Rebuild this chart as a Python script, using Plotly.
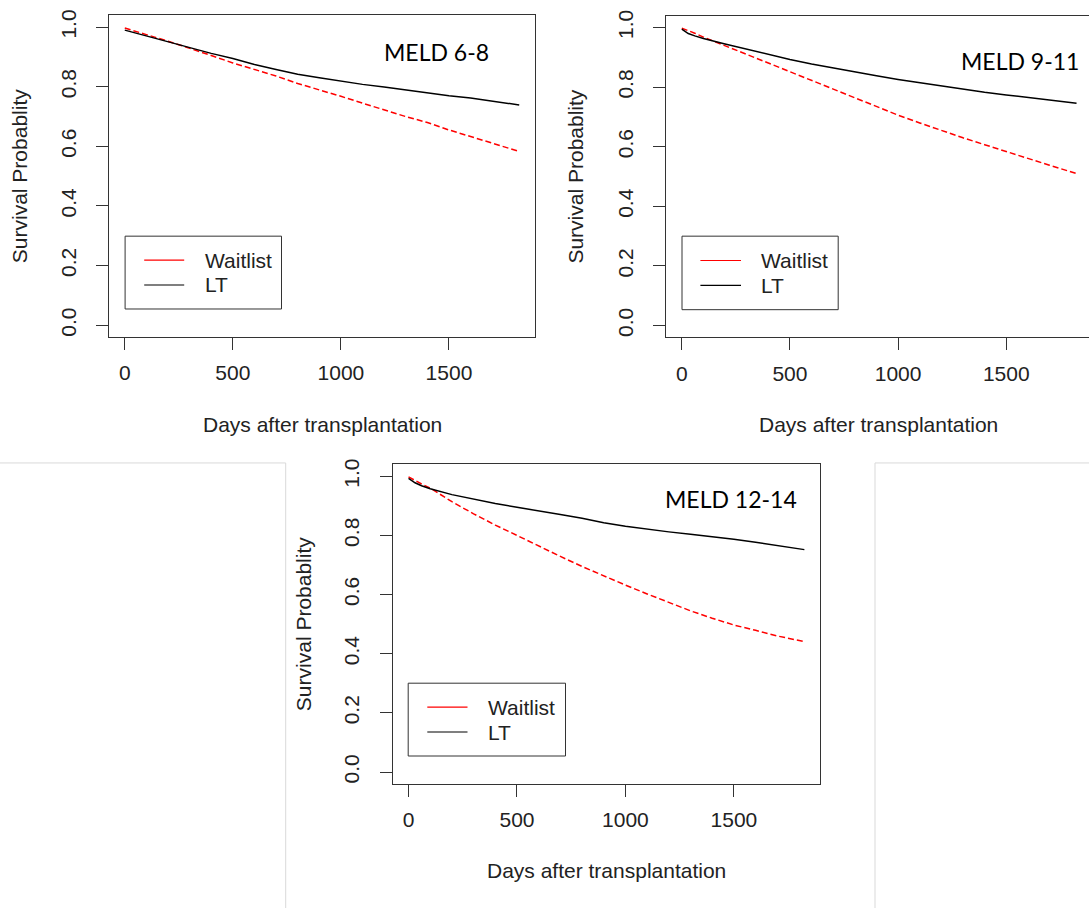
import plotly.graph_objects as go

# ---------------- data ----------------
DAYS = [0, 30, 60, 100, 200, 300, 400, 500, 600, 700, 800, 900, 1000,
        1100, 1200, 1300, 1400, 1500, 1600, 1700, 1825]

MELD_GROUPS = ["MELD 6-8", "MELD 9-11", "MELD 12-14"]
SERIES_NAMES = ["Waitlist", "LT"]

WAITLIST_6_8 = [0.997, 0.990, 0.984, 0.975, 0.953, 0.930, 0.905, 0.880, 0.858, 0.836,
                0.811, 0.790, 0.768, 0.745, 0.722, 0.700, 0.680, 0.655, 0.633, 0.610, 0.583]
LT_6_8 = [0.990, 0.984, 0.978, 0.972, 0.952, 0.930, 0.912, 0.895, 0.875, 0.858,
          0.842, 0.830, 0.818, 0.808, 0.799, 0.789, 0.779, 0.770, 0.762, 0.752, 0.739]

WAITLIST_9_11 = [0.998, 0.990, 0.981, 0.968, 0.940, 0.910, 0.881, 0.852, 0.822, 0.793,
                 0.764, 0.735, 0.706, 0.680, 0.654, 0.630, 0.607, 0.585, 0.561, 0.538, 0.510]
LT_9_11 = [0.995, 0.980, 0.972, 0.963, 0.945, 0.927, 0.909, 0.893, 0.878, 0.864,
           0.851, 0.838, 0.826, 0.815, 0.804, 0.793, 0.783, 0.774, 0.766, 0.757, 0.746]

WAITLIST_12_14 = [0.998, 0.985, 0.974, 0.960, 0.914, 0.873, 0.835, 0.800, 0.764, 0.729,
                  0.695, 0.663, 0.632, 0.602, 0.573, 0.545, 0.520, 0.497, 0.479, 0.460, 0.441]
LT_12_14 = [0.993, 0.978, 0.968, 0.958, 0.938, 0.922, 0.908, 0.895, 0.884, 0.871,
            0.858, 0.843, 0.831, 0.821, 0.812, 0.804, 0.796, 0.787, 0.777, 0.766, 0.752]

X_TICKS = [0, 500, 1000, 1500]
Y_TICKS = [0.0, 0.2, 0.4, 0.6, 0.8, 1.0]
Y_TICK_LABELS = ["0.0", "0.2", "0.4", "0.6", "0.8", "1.0"]
X_TITLE = "Days after transplantation"
Y_TITLE = "Survival Probablity"

GROUP_DATA = [
    (WAITLIST_6_8, LT_6_8),
    (WAITLIST_9_11, LT_9_11),
    (WAITLIST_12_14, LT_12_14),
]

# ---------------- layout / style ----------------
W, H = 1089, 908
FONT = "Liberation Sans, Arial, sans-serif"
TXT = "#222222"
AX = "#333333"
SERIES_STYLE = {
    "Waitlist": dict(color="#ff0000", dash="6px,3px"),
    "LT": dict(color="#000000", dash="solid"),
}


def fx(px):
    return px / W


def fy(py):
    return 1 - py / H


# pixel geometry of each panel (plot box), x range, label placements
PANELS = [
    dict(box=(109, 9.3, 535, 333.3), xr=[-73, 1898], mirror_y=True,
         ytitle_x=19, xtitle=(322, 421.7), meld=(436.2, 46.7),
         leg=(125.1, 231.7, 281.5, 305.0), leg_line=(144.2, 184.2), leg_text=202.6),
    dict(box=(666, 9.7, 1089, 333.7), xr=[-73, -73 + (1089 - 666) / 0.2163], mirror_y=False,
         ytitle_x=576, xtitle=(878, 421.7), meld=(1019.7, 55),
         leg=(682, 231.7, 838.2, 305.7), leg_line=(700.4, 741.0), leg_text=759),
    dict(box=(392.7, 461.5, 820, 783), xr=[-73, 1897], mirror_y=True,
         ytitle_x=303, xtitle=(606.4, 870), meld=(730.8, 496.7),
         leg=(408.2, 681.7, 565.5, 755.0), leg_line=(427.3, 467.5), leg_text=485.9),
]

fig = go.Figure()
shapes = []
annotations = []
layout_axes = {}

for i, (panel, group, data) in enumerate(zip(PANELS, MELD_GROUPS, GROUP_DATA), start=1):
    xa, ya = f"x{i}", f"y{i}"
    for name, vals in zip(SERIES_NAMES, data):
        st = SERIES_STYLE[name]
        fig.add_trace(go.Scatter(
            x=DAYS, y=vals, mode="lines", name=name, legendgroup=name,
            showlegend=False, xaxis=xa, yaxis=ya,
            line=dict(color=st["color"], width=1.5, dash=st["dash"]),
            hovertemplate=f"{group} {name}<br>%{{x}} days: %{{y:.3f}}<extra></extra>",
        ))

    x0, y0, x1, y1 = panel["box"]
    common = dict(showline=True, linecolor=AX, linewidth=1, ticks="outside",
                  ticklen=12, tickwidth=1, tickcolor=AX, showgrid=False,
                  zeroline=False, tickfont=dict(family=FONT, size=21, color=TXT))
    layout_axes[f"xaxis{i}"] = dict(
        domain=[fx(x0), fx(x1)], range=panel["xr"], anchor=ya,
        tickvals=X_TICKS, ticktext=[str(t) for t in X_TICKS],
        mirror=True, ticklabelstandoff=5, **common)
    layout_axes[f"yaxis{i}"] = dict(
        domain=[fy(y1), fy(y0)], range=[-0.04, 1.04], anchor=xa,
        tickvals=Y_TICKS, ticktext=Y_TICK_LABELS, tickangle=-90,
        mirror=panel["mirror_y"], ticklabelstandoff=12, **common)

    # axis titles
    annotations.append(dict(
        text=Y_TITLE, textangle=-90, xref="paper", yref="paper",
        x=fx(panel["ytitle_x"]), y=fy((y0 + y1) / 2), showarrow=False,
        xanchor="center", yanchor="middle",
        font=dict(family=FONT, size=21, color=TXT)))
    annotations.append(dict(
        text=X_TITLE, xref="paper", yref="paper",
        x=fx(panel["xtitle"][0]), y=fy(panel["xtitle"][1]), showarrow=False,
        xanchor="center", yanchor="middle",
        font=dict(family=FONT, size=21, color=TXT)))
    # group label
    annotations.append(dict(
        text=group, xref="paper", yref="paper",
        x=fx(panel["meld"][0]), y=fy(panel["meld"][1]), showarrow=False,
        xanchor="center", yanchor="middle",
        font=dict(family="Lato, Carlito, sans-serif", size=23, color="#000000")))

    # legend box
    lx0, ly0, lx1, ly1 = panel["leg"]
    shapes.append(dict(type="rect", xref="paper", yref="paper",
                       x0=fx(lx0), y0=fy(ly1), x1=fx(lx1), y1=fy(ly0),
                       line=dict(color=AX, width=1), fillcolor="rgba(0,0,0,0)"))
    ymid = (ly0 + ly1) / 2
    for k, name in enumerate(SERIES_NAMES):
        yy = ymid + (k - 0.5) * 25
        shapes.append(dict(type="line", xref="paper", yref="paper",
                           x0=fx(panel["leg_line"][0]), x1=fx(panel["leg_line"][1]),
                           y0=fy(yy), y1=fy(yy),
                           line=dict(color=SERIES_STYLE[name]["color"], width=1.2)))
        annotations.append(dict(
            text=name, xref="paper", yref="paper",
            x=fx(panel["leg_text"]), y=fy(yy), showarrow=False,
            xanchor="left", yanchor="middle",
            font=dict(family=FONT, size=21, color=TXT)))

# faint table-cell separators
SEP = "#d9d9d9"
for (a, b, c, d) in [(0, 460, 285.7, 460), (875, 460, 1089, 460),
                     (285.7, 460, 285.7, 908), (875, 460, 875, 908)]:
    shapes.append(dict(type="line", xref="paper", yref="paper",
                       x0=fx(a), y0=fy(b), x1=fx(c), y1=fy(d),
                       line=dict(color=SEP, width=1)))

fig.update_layout(
    width=W, height=H, margin=dict(l=0, r=0, t=0, b=0),
    paper_bgcolor="white", plot_bgcolor="white",
    showlegend=False, shapes=shapes, annotations=annotations,
    **layout_axes)

fig.write_html("out.html")
